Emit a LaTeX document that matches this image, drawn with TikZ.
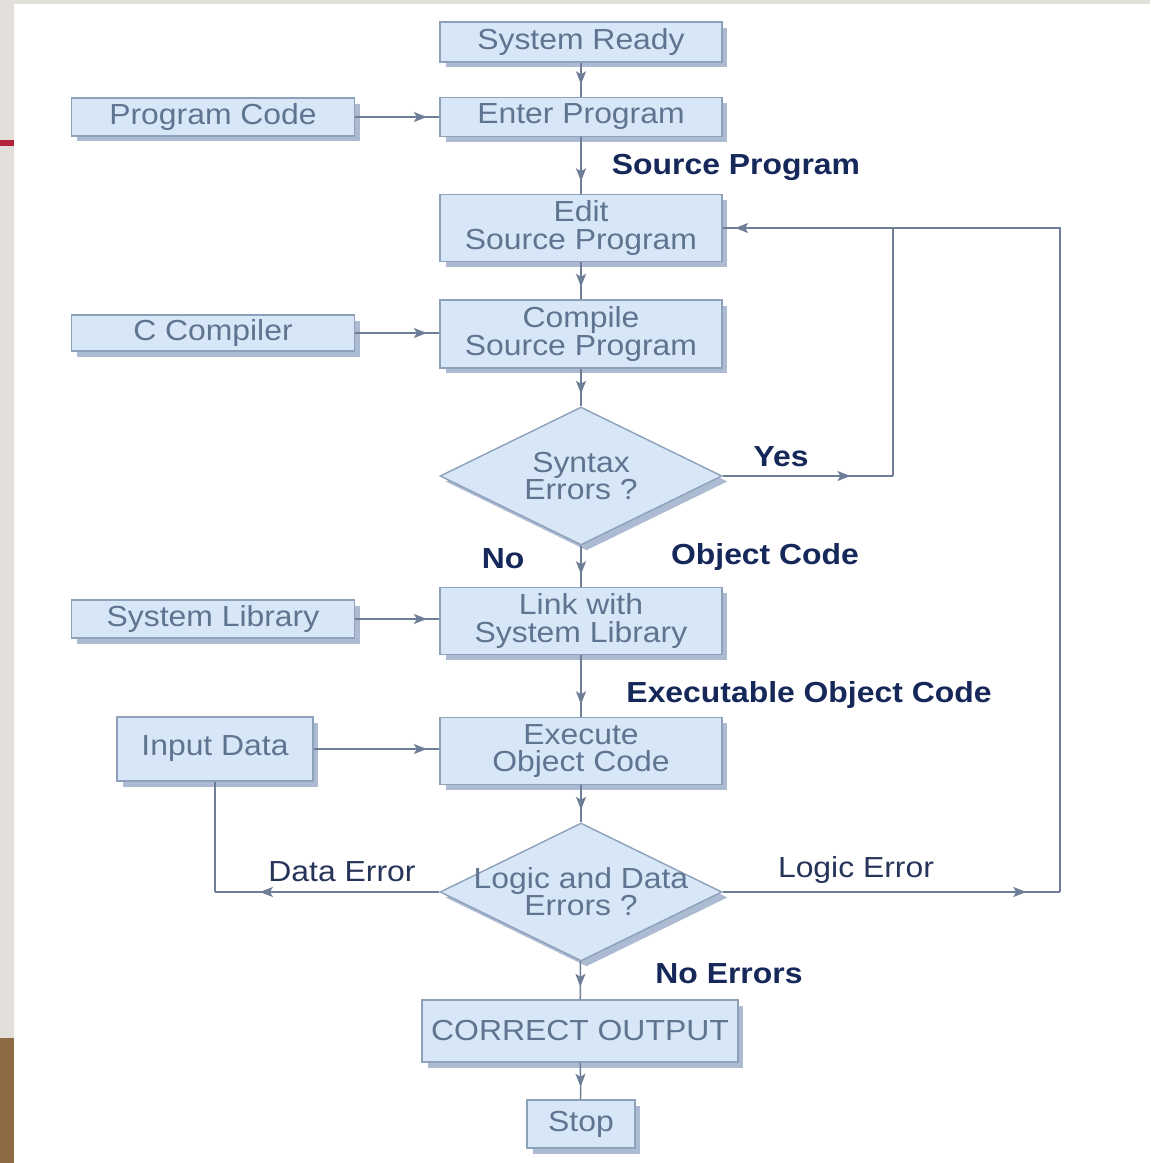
\documentclass[tikz,border=0pt]{standalone}
\usepackage{fontspec}
\setmainfont{Liberation Sans}[FakeStretch=1.1]
\usetikzlibrary{shapes.geometric,shadows,arrows.meta,decorations.markings}

\definecolor{boxfill}{HTML}{D8E7F7}
\definecolor{boxline}{HTML}{8DA1BA}
\definecolor{boxshade}{HTML}{A3B4CC}
\definecolor{boxtext}{HTML}{5F7490}
\definecolor{linegray}{HTML}{6E7E96}
\definecolor{navy}{HTML}{16285A}
\definecolor{errnavy}{HTML}{27345A}
\definecolor{stripgray}{HTML}{E2DFDA}
\definecolor{stripred}{HTML}{B3243C}
\definecolor{stripbrown}{HTML}{8E6B42}

\tikzset{
  procbox/.style={draw=boxline, fill=boxfill, line width=0.8pt, text=boxtext,
    align=center, inner sep=0pt, font=\fontsize{16.5}{15.5}\selectfont,
    drop shadow={shadow xshift=1.1mm, shadow yshift=-1.1mm, fill=boxshade, opacity=0.9}},
  decision/.style={procbox, diamond, aspect=2.04, minimum width=5.64cm, minimum height=2.76cm},
  dtext/.style={text=boxtext, align=center, font=\fontsize{16.5}{15.5}\selectfont},
  lbl/.style={text=navy, font=\fontsize{16.5}{18}\selectfont\bfseries},
  errlbl/.style={text=errnavy, font=\fontsize{16.5}{18}\selectfont},
  conn/.style={draw=linegray, line width=0.85pt},
  flow/.style={conn, postaction={decorate}, decoration={markings,
    mark=at position #1 with {\arrow[linegray]{Stealth[length=2.6mm,width=2mm,inset=0.6mm]}}}},
  flow/.default={-2.5mm}
}

\begin{document}
\begin{tikzpicture}[x=0.02cm, y=-0.02cm]
  % page background
  \fill[white] (0,0) rectangle (1150,1163);
  \fill[stripgray] (0,0) rectangle (14,1163);
  \fill[stripgray] (0,0) rectangle (1150,4);
  \fill[stripred] (0,140) rectangle (14,146);
  \fill[stripbrown] (0,1038) rectangle (14,1163);
  \useasboundingbox (0,0) rectangle (1150,1163);

  % main column
  \node[procbox, minimum width=5.64cm, minimum height=0.80cm] (ready) at (581,42) {System Ready};
  \node[procbox, minimum width=5.64cm, minimum height=0.78cm] (enter) at (581,117) {Enter Program};
  \node[procbox, minimum width=5.64cm, minimum height=1.34cm] (edit) at (581,228) {Edit\\Source Program};
  \node[procbox, minimum width=5.64cm, minimum height=1.36cm] (compile) at (581,334) {Compile\\Source Program};
  \node[decision, label={[dtext]center:Syntax\\Errors ?}] (syntax) at (581,476) {};
  \node[procbox, minimum width=5.64cm, minimum height=1.34cm] (link) at (581,621) {Link with\\System Library};
  \node[procbox, minimum width=5.64cm, minimum height=1.34cm] (exec) at (581,751) {Execute\\Object Code};
  \node[decision, label={[dtext]center:Logic and Data\\Errors ?}] (logic) at (581,892) {};
  \node[procbox, minimum width=6.32cm, minimum height=1.24cm] (output) at (580,1031) {CORRECT OUTPUT};
  \node[procbox, minimum width=2.16cm, minimum height=0.96cm] (stop) at (581,1124) {Stop};

  % inputs on the left
  \node[procbox, minimum width=5.66cm, minimum height=0.76cm] (code) at (213,117) {Program Code};
  \node[procbox, minimum width=5.66cm, minimum height=0.72cm] (ccomp) at (213,333) {C Compiler};
  \node[procbox, minimum width=5.66cm, minimum height=0.76cm] (lib) at (213,619) {System Library};
  \node[procbox, minimum width=3.92cm, minimum height=1.28cm] (input) at (215,749) {Input Data};

  % labels
  \node[lbl] (srclbl) at (736,167) {Source Program};
  \node[lbl] (yeslbl) at (781,457) {Yes};
  \node[lbl] (nolbl) at (503,559) {No};
  \node[lbl] (objlbl) at (765,557) {Object Code};
  \node[lbl] (exelbl) at (809,695) {Executable Object Code};
  \node[errlbl] (dataerr) at (342,872) {Data Error};
  \node[errlbl] (logicerr) at (856,870) {Logic Error};
  \node[lbl] (noerr) at (729,974) {No Errors};

  % straight connectors
  \draw[flow] (ready) -- (enter);
  \draw[flow] (code) -- (enter);
  \draw[flow] (enter) -- (edit);
  \draw[flow] (edit) -- (compile);
  \draw[flow] (ccomp.east) -- (ccomp.east -| compile.west);
  \draw[flow] (compile) -- (syntax);
  \draw[flow] (syntax) -- (link);
  \draw[flow] (lib.east) -- (lib.east -| link.west);
  \draw[flow] (link) -- (exec);
  \draw[flow] (input.east) -- (input.east -| exec.west);
  \draw[flow] (exec) -- (logic);
  \draw[flow] (logic) -- (output);
  \draw[flow] (output) -- (stop);

  % loops back
  \coordinate (yesturn) at (893,476);
  \coordinate (logicturn) at (1060,892);
  \coordinate (dataturn) at (input.south |- logic.west);
  \draw[flow=0.75] (syntax.east) -- (yesturn);
  \draw[flow] (yesturn) |- (edit.east);
  \draw[flow=0.9] (logic.east) -- (logicturn);
  \draw[conn] (logicturn) |- (yesturn |- edit.east);
  \draw[flow=0.8] (logic.west) -- (dataturn);
  \draw[conn] (dataturn) -- (input.south);
\end{tikzpicture}
\end{document}
